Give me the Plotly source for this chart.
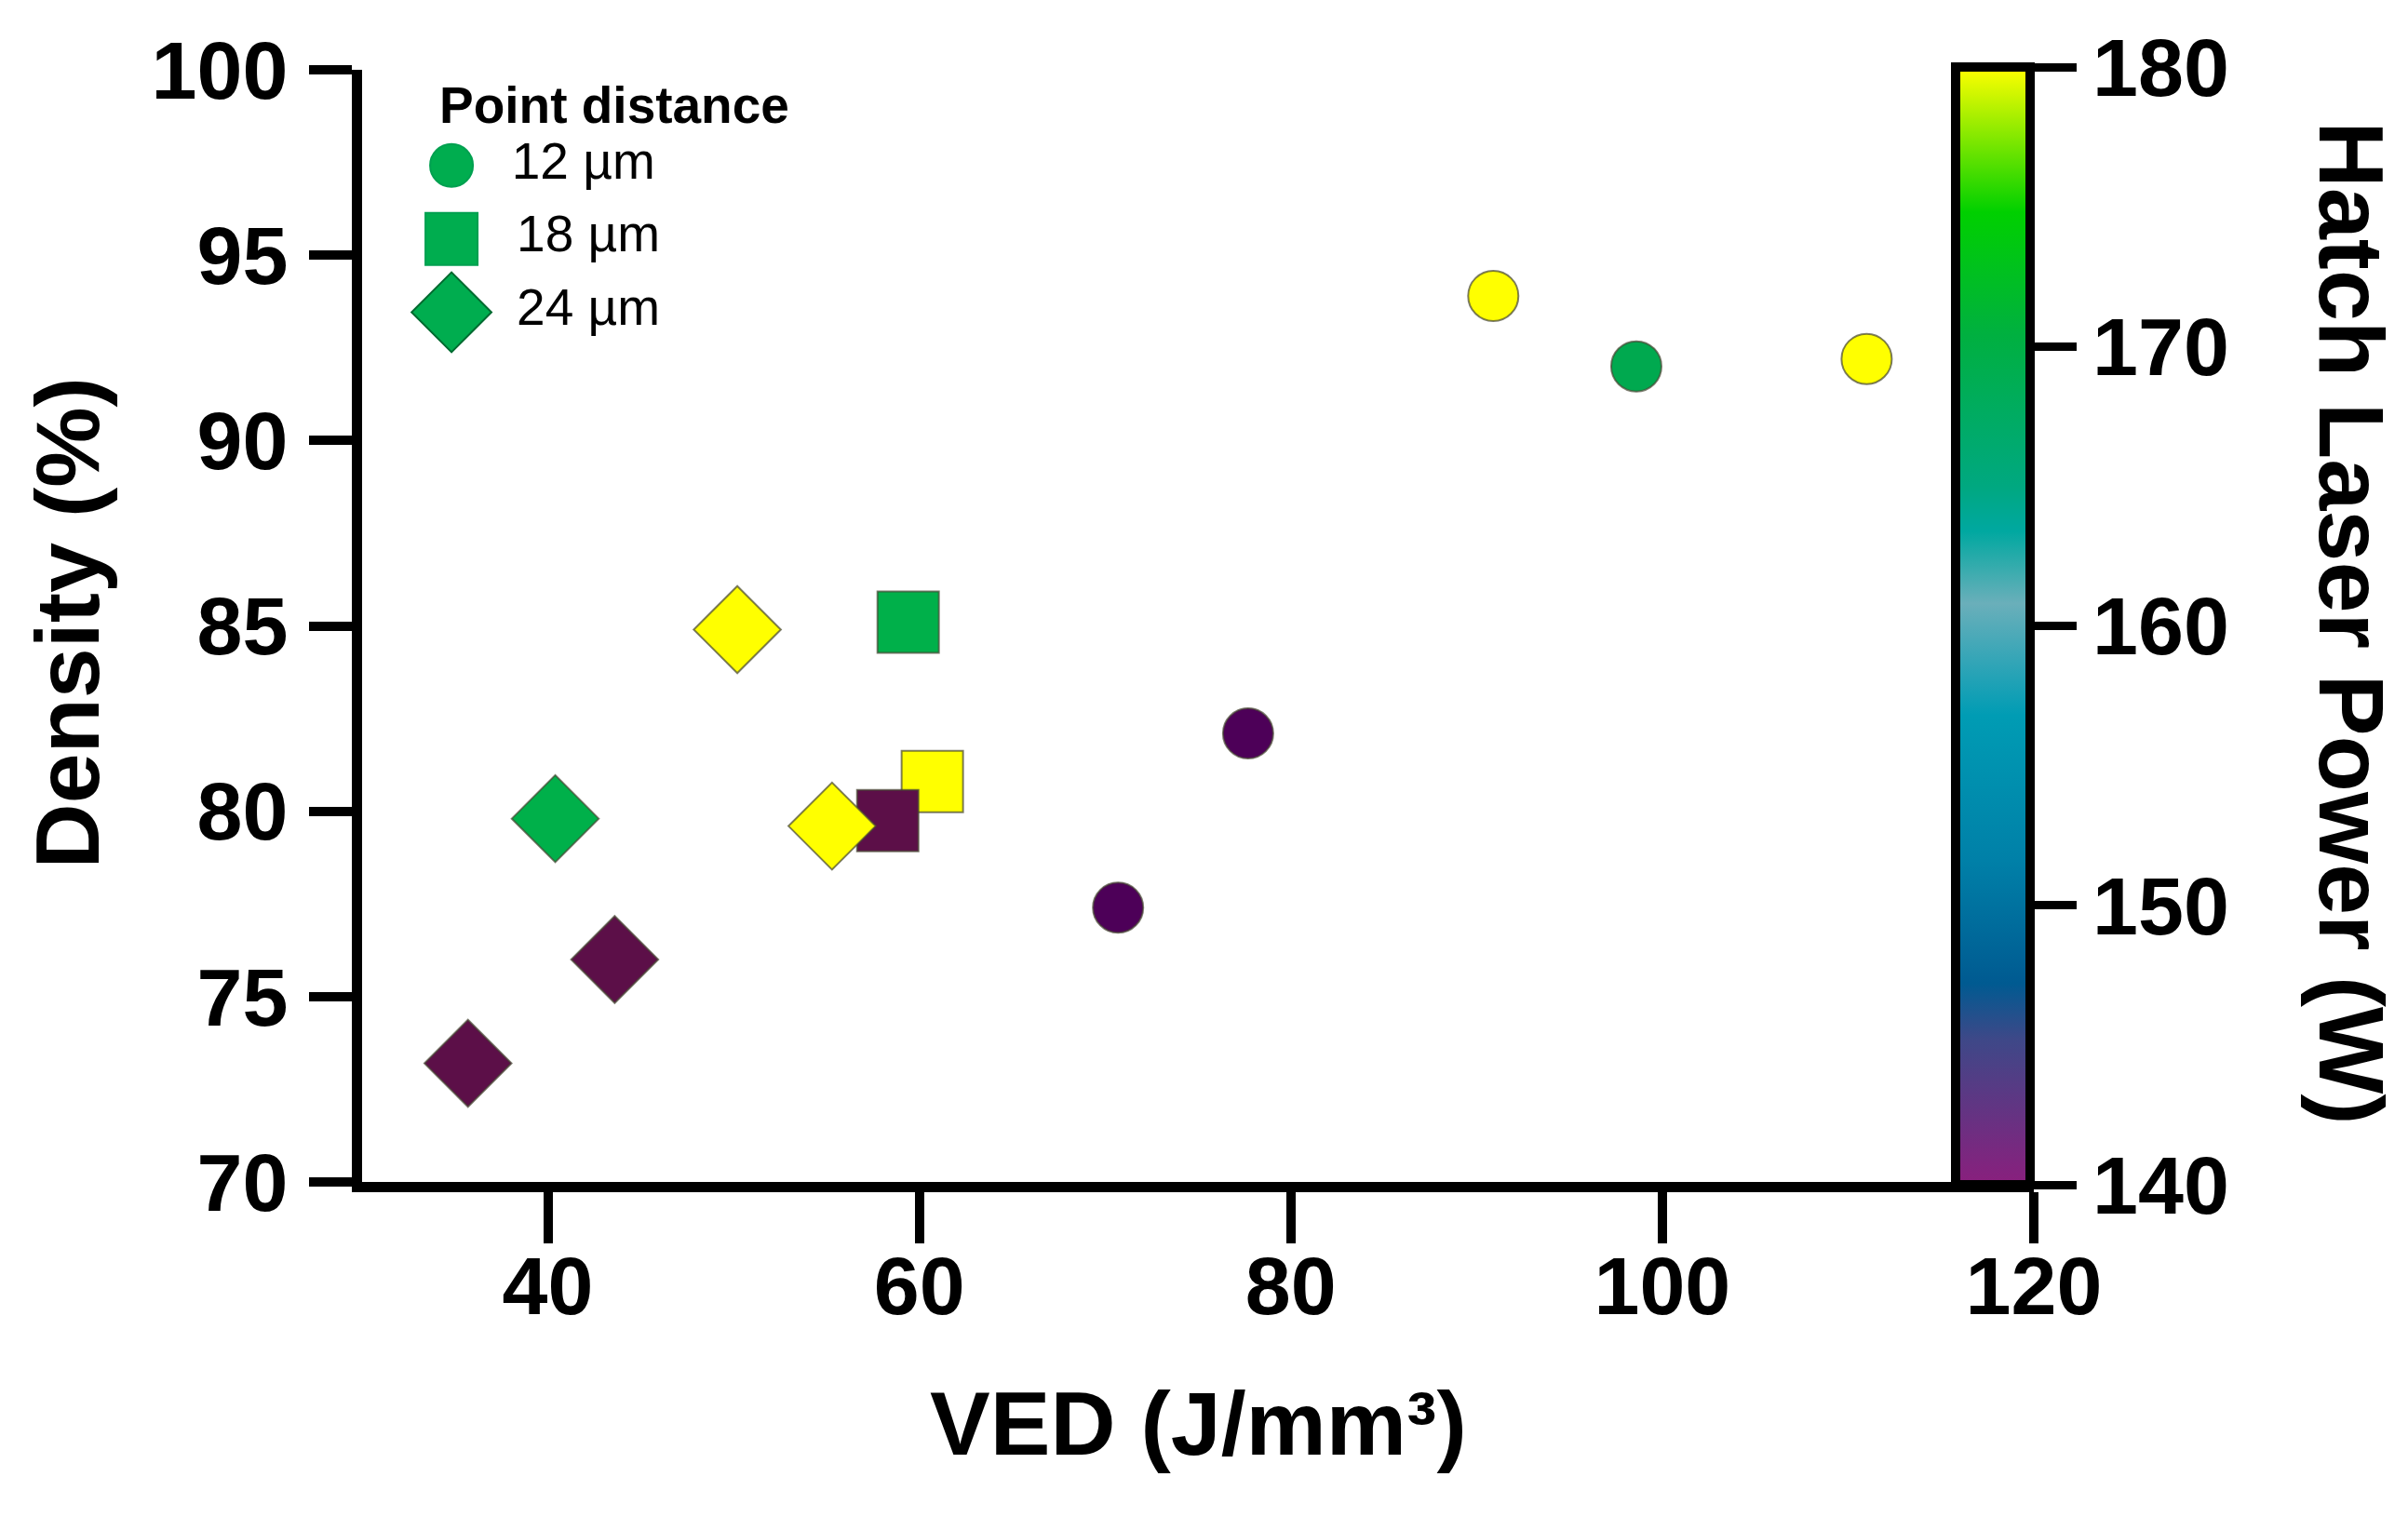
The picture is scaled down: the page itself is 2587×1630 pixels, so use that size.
import plotly.graph_objects as go

# VED (J/mm3), density (%) and hatch laser power (W) per point distance group
ved_12 = [90.9, 98.6, 111.0, 77.7, 70.7]
dens_12 = [93.9, 92.0, 92.2, 82.1, 77.4]
power_12 = [180, 170, 180, 140, 140]

ved_18 = [59.4, 60.7, 58.3]
dens_18 = [85.1, 80.8, 79.75]
power_18 = [170, 180, 140]

ved_24 = [50.2, 40.4, 55.3, 43.6, 35.7]
dens_24 = [84.9, 79.8, 79.6, 76.0, 73.2]
power_24 = [180, 170, 180, 140, 140]

groups = ["12 µm", "18 µm", "24 µm"]
x_ticks = [40, 60, 80, 100, 120]
y_ticks = [70, 75, 80, 85, 90, 95, 100]
cbar_ticks = [140, 150, 160, 170, 180]

FONT = "Liberation Sans, Arial, sans-serif"

# point colours as drawn (purples differ a bit between shapes)
point_colors = {
    "circle": {140: "#4d0058", 170: "#00a94f", 180: "#ffff00"},
    "square": {140: "#5c0f48", 170: "#00b04a", 180: "#ffff00"},
    "diamond": {140: "#5c0f48", 170: "#00b04a", 180: "#ffff00"},
}

hatch_scale = [
    [0.0, "#8a1f7d"],
    [0.13, "#3e4888"],
    [0.18, "#005a91"],
    [0.29, "#0080a8"],
    [0.42, "#009cb4"],
    [0.52, "#6aafba"],
    [0.585, "#00a8a0"],
    [0.625, "#00a880"],
    [0.76, "#00b040"],
    [0.87, "#00d000"],
    [1.0, "#ffff00"],
]

fig = go.Figure()

series = [
    (ved_12, dens_12, power_12, "circle", 54),
    (ved_18, dens_18, power_18, "square", 66),
    (ved_24, dens_24, power_24, "diamond", 72),
]
for ved, dens, power, sym, size in series:
    cols = [point_colors[sym][p] for p in power]
    fig.add_trace(go.Scatter(
        x=ved, y=dens, mode="markers", showlegend=False,
        marker=dict(symbol=sym, size=size, color=cols, opacity=1,
                    line=dict(color="rgba(70,70,50,0.7)", width=2)),
    ))

# hidden trace just to carry the colour bar
fig.add_trace(go.Scatter(
    x=ved_12, y=dens_12, mode="markers", showlegend=False, hoverinfo="skip",
    marker=dict(
        color=power_12, cmin=140, cmax=180, colorscale=hatch_scale, opacity=0,
        showscale=True,
        colorbar=dict(
            x=0.9535, xanchor="left", xpad=0, ypad=0,
            y=0.5, yanchor="middle", len=1.005,
            thickness=80, outlinewidth=10, outlinecolor="black",
            tickvals=cbar_ticks, ticks="outside", ticklen=45, tickwidth=9,
            tickcolor="black",
            tickfont=dict(family=FONT, size=88, color="black", weight=700),
        ),
    ),
))

# legend drawn on a small overlay axis so the symbols keep their size
fig.add_trace(go.Scatter(
    x=[0, 0, 0], y=groups, mode="markers", xaxis="x2", yaxis="y2",
    showlegend=False, cliponaxis=False, hoverinfo="skip",
    marker=dict(symbol=["circle", "square", "diamond"], size=[46, 56, 66],
                color="#00ad4f", opacity=1,
                line=dict(color=["#00a050", "#00a050", "#006a30"], width=2)),
))
fig.add_trace(go.Scatter(
    x=[0.12, 0.13, 0.13], y=groups, mode="text", xaxis="x2", yaxis="y2",
    text=groups, textposition="middle right", showlegend=False,
    cliponaxis=False, hoverinfo="skip",
    textfont=dict(family=FONT, size=55, color="black"),
))

axis_common = dict(
    showline=True, linecolor="black", linewidth=11, mirror=False,
    ticks="outside", tickcolor="black", showgrid=False, zeroline=False,
    tickfont=dict(family=FONT, size=88, color="black", weight=700),
)

fig.update_layout(
    width=2587, height=1630,
    margin=dict(l=381, r=410, t=67, b=368),
    paper_bgcolor="white", plot_bgcolor="white",
    xaxis=dict(range=[30, 120], tickvals=x_ticks, ticklen=55, tickwidth=10,
               ticklabelstandoff=-30, **axis_common),
    yaxis=dict(range=[70, 100], tickvals=y_ticks, ticklen=46, tickwidth=10,
               ticklabelstandoff=5, **axis_common),
    xaxis2=dict(domain=[0.0535, 0.3535], range=[0, 1], visible=False,
                anchor="y2", fixedrange=True),
    yaxis2=dict(domain=[0.749, 0.947], type="category",
                categoryorder="array", categoryarray=groups[::-1],
                range=[-0.5, 2.5], visible=False, anchor="x2", fixedrange=True),
    annotations=[
        dict(text="Point distance", x=0.045, y=0.968, xref="paper", yref="paper",
             xanchor="left", yanchor="middle", showarrow=False,
             font=dict(family=FONT, size=55, color="black", weight=700)),
        dict(text="VED (J/mm³)", x=0.5, y=-0.217, xref="paper", yref="paper",
             xanchor="center", yanchor="middle", showarrow=False,
             font=dict(family=FONT, size=97, color="black", weight=700)),
        dict(text="Density (%)", x=-0.176, y=0.5025, xref="paper", yref="paper",
             xanchor="center", yanchor="middle", showarrow=False, textangle=-90,
             font=dict(family=FONT, size=97, color="black", weight=700)),
        dict(text="Hatch Laser Power (W)", x=1.19, y=0.5025, xref="paper", yref="paper",
             xanchor="center", yanchor="middle", showarrow=False, textangle=90,
             font=dict(family=FONT, size=99, color="black", weight=700)),
    ],
)

fig.write_html("out.html")
